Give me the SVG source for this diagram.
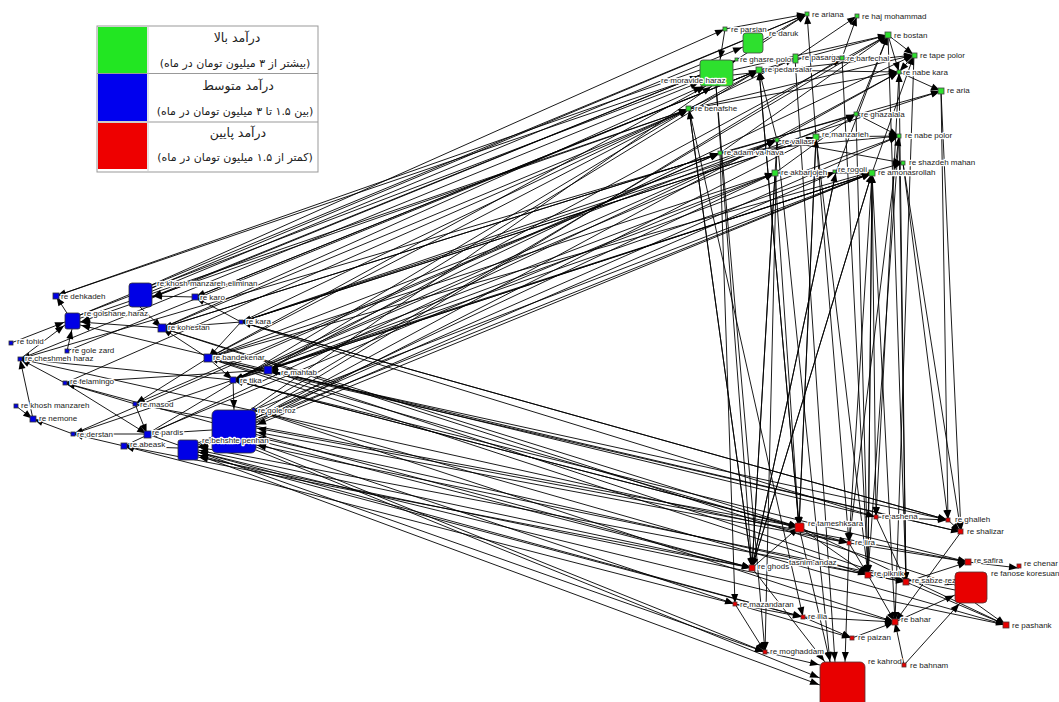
<svg xmlns="http://www.w3.org/2000/svg" width="1059" height="702" viewBox="0 0 1059 702">
<style>
.e line{stroke:#000;stroke-width:0.9;marker-end:url(#a)}
.l{font-family:"Liberation Sans",Arial,sans-serif;font-size:8px;fill:#222;paint-order:stroke;stroke:#fff;stroke-width:2.5px;stroke-linejoin:round}
.g{fill:#2ee02e;stroke:#444;stroke-width:0.8}
.b{fill:#0000e6;stroke:#333;stroke-width:0.8}
.r{fill:#e80000;stroke:#533;stroke-width:0.8}
.fa{font-family:"DejaVu Sans",sans-serif;fill:#222;text-anchor:middle}
</style>
<defs>
<marker id="a" markerUnits="userSpaceOnUse" markerWidth="9" markerHeight="7" refX="10" refY="3.5" orient="auto" overflow="visible">
<path d="M0,0 L9,3.5 L0,7 z" fill="#000"/>
</marker>
</defs>
<rect width="1059" height="702" fill="#fff"/>
<g id="connectors" class="e">
<line x1="56" y1="296" x2="700" y2="76"/>
<line x1="140" y1="290" x2="725" y2="29"/>
<line x1="150" y1="292" x2="743" y2="47"/>
<line x1="72" y1="318" x2="700" y2="79"/>
<line x1="72" y1="321" x2="689" y2="109"/>
<line x1="195" y1="297" x2="759" y2="70"/>
<line x1="162" y1="328" x2="720" y2="153"/>
<line x1="162" y1="328" x2="703" y2="86"/>
<line x1="241" y1="322" x2="777" y2="140"/>
<line x1="241" y1="322" x2="795" y2="58"/>
<line x1="241" y1="322" x2="816" y2="137"/>
<line x1="208" y1="358" x2="706" y2="86"/>
<line x1="208" y1="358" x2="689" y2="109"/>
<line x1="208" y1="358" x2="775" y2="173"/>
<line x1="268" y1="370" x2="872" y2="173"/>
<line x1="268" y1="370" x2="836" y2="172"/>
<line x1="268" y1="370" x2="759" y2="70"/>
<line x1="268" y1="370" x2="888" y2="35"/>
<line x1="233" y1="380" x2="914" y2="55"/>
<line x1="233" y1="380" x2="856" y2="114"/>
<line x1="233" y1="380" x2="777" y2="140"/>
<line x1="20" y1="359" x2="700" y2="82"/>
<line x1="65" y1="383" x2="689" y2="109"/>
<line x1="135" y1="404" x2="720" y2="153"/>
<line x1="67" y1="351" x2="759" y2="70"/>
<line x1="256" y1="420" x2="872" y2="173"/>
<line x1="256" y1="418" x2="899" y2="72"/>
<line x1="256" y1="422" x2="816" y2="137"/>
<line x1="250" y1="410" x2="712" y2="86"/>
<line x1="256" y1="415" x2="842" y2="58"/>
<line x1="198" y1="445" x2="775" y2="173"/>
<line x1="198" y1="443" x2="899" y2="136"/>
<line x1="147" y1="434" x2="689" y2="109"/>
<line x1="124" y1="446" x2="777" y2="140"/>
<line x1="254" y1="410" x2="872" y2="173"/>
<line x1="254" y1="410" x2="888" y2="35"/>
<line x1="152" y1="288" x2="807" y2="14"/>
<line x1="80" y1="315" x2="807" y2="14"/>
<line x1="152" y1="298" x2="737" y2="60"/>
<line x1="162" y1="328" x2="689" y2="109"/>
<line x1="208" y1="358" x2="903" y2="163"/>
<line x1="268" y1="370" x2="899" y2="136"/>
<line x1="233" y1="380" x2="872" y2="173"/>
<line x1="147" y1="434" x2="775" y2="173"/>
<line x1="73" y1="434" x2="720" y2="153"/>
<line x1="241" y1="322" x2="941" y2="91"/>
<line x1="689" y1="109" x2="80" y2="322"/>
<line x1="720" y1="153" x2="162" y2="328"/>
<line x1="777" y1="140" x2="208" y2="358"/>
<line x1="775" y1="173" x2="233" y2="380"/>
<line x1="872" y1="173" x2="268" y2="370"/>
<line x1="759" y1="70" x2="195" y2="297"/>
<line x1="700" y1="75" x2="152" y2="297"/>
<line x1="816" y1="137" x2="241" y2="322"/>
<line x1="700" y1="70" x2="56" y2="296"/>
<line x1="872" y1="173" x2="256" y2="425"/>
<line x1="836" y1="172" x2="198" y2="448"/>
<line x1="856" y1="114" x2="20" y2="359"/>
<line x1="241" y1="322" x2="948" y2="520"/>
<line x1="241" y1="322" x2="876" y2="517"/>
<line x1="162" y1="328" x2="799" y2="527"/>
<line x1="208" y1="358" x2="849" y2="543"/>
<line x1="208" y1="358" x2="868" y2="575"/>
<line x1="268" y1="370" x2="961" y2="532"/>
<line x1="268" y1="370" x2="906" y2="582"/>
<line x1="233" y1="380" x2="968" y2="562"/>
<line x1="233" y1="380" x2="799" y2="527"/>
<line x1="254" y1="410" x2="1006" y2="625"/>
<line x1="254" y1="410" x2="895" y2="622"/>
<line x1="256" y1="440" x2="752" y2="568"/>
<line x1="256" y1="443" x2="735" y2="604"/>
<line x1="256" y1="447" x2="765" y2="652"/>
<line x1="256" y1="450" x2="820" y2="678"/>
<line x1="198" y1="455" x2="820" y2="685"/>
<line x1="198" y1="452" x2="803" y2="617"/>
<line x1="124" y1="446" x2="752" y2="568"/>
<line x1="147" y1="434" x2="765" y2="652"/>
<line x1="135" y1="404" x2="799" y2="527"/>
<line x1="20" y1="359" x2="849" y2="543"/>
<line x1="65" y1="383" x2="752" y2="568"/>
<line x1="162" y1="328" x2="955" y2="585"/>
<line x1="208" y1="358" x2="948" y2="520"/>
<line x1="895" y1="622" x2="198" y2="452"/>
<line x1="906" y1="582" x2="198" y2="447"/>
<line x1="868" y1="575" x2="256" y2="437"/>
<line x1="849" y1="543" x2="256" y2="432"/>
<line x1="799" y1="527" x2="233" y2="380"/>
<line x1="752" y1="568" x2="198" y2="450"/>
<line x1="803" y1="617" x2="198" y2="455"/>
<line x1="735" y1="604" x2="124" y2="446"/>
<line x1="876" y1="517" x2="268" y2="370"/>
<line x1="968" y1="562" x2="256" y2="428"/>
<line x1="1006" y1="625" x2="198" y2="457"/>
<line x1="955" y1="590" x2="256" y2="445"/>
<line x1="948" y1="520" x2="241" y2="322"/>
<line x1="961" y1="532" x2="208" y2="358"/>
<line x1="872" y1="173" x2="752" y2="568"/>
<line x1="872" y1="173" x2="868" y2="575"/>
<line x1="872" y1="173" x2="849" y2="543"/>
<line x1="836" y1="172" x2="752" y2="568"/>
<line x1="775" y1="173" x2="752" y2="568"/>
<line x1="775" y1="173" x2="799" y2="527"/>
<line x1="777" y1="140" x2="752" y2="568"/>
<line x1="777" y1="140" x2="765" y2="652"/>
<line x1="720" y1="153" x2="735" y2="604"/>
<line x1="689" y1="109" x2="752" y2="568"/>
<line x1="689" y1="109" x2="803" y2="617"/>
<line x1="816" y1="137" x2="799" y2="527"/>
<line x1="816" y1="137" x2="868" y2="575"/>
<line x1="899" y1="136" x2="868" y2="575"/>
<line x1="899" y1="136" x2="906" y2="582"/>
<line x1="903" y1="163" x2="961" y2="532"/>
<line x1="941" y1="91" x2="948" y2="520"/>
<line x1="899" y1="72" x2="876" y2="517"/>
<line x1="856" y1="114" x2="868" y2="575"/>
<line x1="914" y1="55" x2="895" y2="622"/>
<line x1="888" y1="35" x2="906" y2="582"/>
<line x1="759" y1="70" x2="799" y2="527"/>
<line x1="716" y1="86" x2="752" y2="568"/>
<line x1="716" y1="86" x2="765" y2="652"/>
<line x1="795" y1="58" x2="835" y2="662"/>
<line x1="842" y1="58" x2="868" y2="575"/>
<line x1="752" y1="568" x2="872" y2="173"/>
<line x1="868" y1="575" x2="872" y2="173"/>
<line x1="752" y1="568" x2="836" y2="172"/>
<line x1="849" y1="543" x2="899" y2="136"/>
<line x1="799" y1="527" x2="816" y2="137"/>
<line x1="895" y1="622" x2="872" y2="173"/>
<line x1="906" y1="582" x2="899" y2="72"/>
<line x1="941" y1="91" x2="961" y2="532"/>
<line x1="777" y1="140" x2="830" y2="662"/>
<line x1="816" y1="137" x2="849" y2="543"/>
<line x1="872" y1="173" x2="876" y2="517"/>
<line x1="903" y1="163" x2="948" y2="520"/>
<line x1="752" y1="568" x2="689" y2="109"/>
<line x1="799" y1="527" x2="759" y2="70"/>
<line x1="759" y1="70" x2="888" y2="35"/>
<line x1="733" y1="62" x2="807" y2="14"/>
<line x1="763" y1="40" x2="807" y2="14"/>
<line x1="725" y1="29" x2="720" y2="60"/>
<line x1="689" y1="109" x2="914" y2="55"/>
<line x1="720" y1="153" x2="888" y2="35"/>
<line x1="777" y1="140" x2="899" y2="72"/>
<line x1="888" y1="35" x2="914" y2="55"/>
<line x1="888" y1="35" x2="899" y2="72"/>
<line x1="914" y1="55" x2="899" y2="72"/>
<line x1="899" y1="72" x2="941" y2="91"/>
<line x1="842" y1="58" x2="857" y2="16"/>
<line x1="795" y1="58" x2="857" y2="16"/>
<line x1="816" y1="137" x2="899" y2="136"/>
<line x1="856" y1="114" x2="899" y2="136"/>
<line x1="775" y1="173" x2="872" y2="173"/>
<line x1="777" y1="140" x2="903" y2="163"/>
<line x1="720" y1="153" x2="899" y2="136"/>
<line x1="733" y1="70" x2="888" y2="35"/>
<line x1="733" y1="75" x2="914" y2="55"/>
<line x1="759" y1="70" x2="899" y2="72"/>
<line x1="872" y1="173" x2="914" y2="55"/>
<line x1="836" y1="172" x2="888" y2="35"/>
<line x1="775" y1="173" x2="856" y2="114"/>
<line x1="689" y1="109" x2="899" y2="72"/>
<line x1="720" y1="153" x2="941" y2="91"/>
<line x1="725" y1="29" x2="807" y2="14"/>
<line x1="689" y1="109" x2="759" y2="70"/>
<line x1="856" y1="114" x2="888" y2="35"/>
<line x1="795" y1="58" x2="842" y2="58"/>
<line x1="816" y1="137" x2="807" y2="14"/>
<line x1="777" y1="140" x2="759" y2="70"/>
<line x1="72" y1="321" x2="56" y2="296"/>
<line x1="195" y1="297" x2="152" y2="296"/>
<line x1="162" y1="328" x2="80" y2="322"/>
<line x1="20" y1="359" x2="65" y2="325"/>
<line x1="11" y1="343" x2="65" y2="322"/>
<line x1="67" y1="351" x2="72" y2="329"/>
<line x1="65" y1="383" x2="20" y2="359"/>
<line x1="135" y1="404" x2="65" y2="383"/>
<line x1="33" y1="419" x2="20" y2="359"/>
<line x1="73" y1="434" x2="33" y2="419"/>
<line x1="147" y1="434" x2="73" y2="434"/>
<line x1="124" y1="446" x2="73" y2="434"/>
<line x1="178" y1="448" x2="124" y2="446"/>
<line x1="212" y1="430" x2="147" y2="434"/>
<line x1="233" y1="380" x2="234" y2="410"/>
<line x1="208" y1="358" x2="233" y2="380"/>
<line x1="268" y1="370" x2="233" y2="380"/>
<line x1="241" y1="322" x2="195" y2="297"/>
<line x1="16" y1="406" x2="33" y2="419"/>
<line x1="135" y1="404" x2="147" y2="434"/>
<line x1="233" y1="380" x2="20" y2="359"/>
<line x1="268" y1="370" x2="80" y2="325"/>
<line x1="241" y1="322" x2="208" y2="358"/>
<line x1="212" y1="440" x2="198" y2="447"/>
<line x1="140" y1="307" x2="162" y2="328"/>
<line x1="241" y1="322" x2="162" y2="328"/>
<line x1="208" y1="358" x2="162" y2="328"/>
<line x1="268" y1="370" x2="65" y2="383"/>
<line x1="233" y1="380" x2="73" y2="434"/>
<line x1="208" y1="358" x2="135" y2="404"/>
<line x1="65" y1="383" x2="147" y2="434"/>
<line x1="752" y1="568" x2="799" y2="527"/>
<line x1="799" y1="527" x2="868" y2="575"/>
<line x1="868" y1="575" x2="906" y2="582"/>
<line x1="906" y1="582" x2="968" y2="562"/>
<line x1="968" y1="562" x2="1019" y2="568"/>
<line x1="971" y1="600" x2="1006" y2="625"/>
<line x1="895" y1="622" x2="955" y2="595"/>
<line x1="904" y1="665" x2="895" y2="622"/>
<line x1="904" y1="665" x2="960" y2="603"/>
<line x1="735" y1="604" x2="765" y2="652"/>
<line x1="735" y1="604" x2="803" y2="617"/>
<line x1="803" y1="617" x2="895" y2="622"/>
<line x1="803" y1="617" x2="852" y2="638"/>
<line x1="735" y1="604" x2="852" y2="638"/>
<line x1="765" y1="652" x2="820" y2="665"/>
<line x1="849" y1="543" x2="845" y2="662"/>
<line x1="948" y1="520" x2="961" y2="532"/>
<line x1="876" y1="517" x2="948" y2="520"/>
<line x1="961" y1="532" x2="895" y2="622"/>
<line x1="868" y1="575" x2="895" y2="622"/>
<line x1="849" y1="543" x2="968" y2="562"/>
<line x1="752" y1="568" x2="825" y2="662"/>
<line x1="852" y1="638" x2="895" y2="622"/>
<line x1="906" y1="582" x2="1006" y2="625"/>
<line x1="799" y1="527" x2="1006" y2="625"/>
<line x1="799" y1="527" x2="830" y2="662"/>
<line x1="876" y1="517" x2="906" y2="582"/>
<line x1="849" y1="543" x2="868" y2="575"/>
</g>
<g id="legend">
<rect x="97" y="26" width="221" height="146" fill="#fff" stroke="#999"/>
<rect x="98" y="27" width="49" height="46" fill="#22e622"/>
<rect x="98" y="74" width="49" height="47" fill="#0000ee"/>
<rect x="98" y="123" width="49" height="46" fill="#ee0000"/>
<line x1="97" y1="73.5" x2="318" y2="73.5" stroke="#999"/>
<line x1="97" y1="122" x2="318" y2="122" stroke="#999"/>
<line x1="148" y1="26" x2="148" y2="172" stroke="#ccc"/>
<text class="fa" x="237" y="42" font-size="12.5" direction="rtl">درآمد بالا</text>
<text class="fa" x="235" y="67" font-size="11" direction="rtl">(بیشتر از ۳ میلیون تومان در ماه)</text>
<text class="fa" x="238" y="90" font-size="12.5" direction="rtl">درآمد متوسط</text>
<text class="fa" x="235" y="115" font-size="11" direction="rtl">(بین ۱.۵ تا ۳ میلیون تومان در ماه)</text>
<text class="fa" x="238" y="137" font-size="12.5" direction="rtl">درآمد پایین</text>
<text class="fa" x="235" y="161" font-size="11" direction="rtl">(کمتر از ۱.۵ میلیون تومان در ماه)</text>
</g>
<g id="n-ariana"><rect class="g" x="805" y="12" width="4" height="4"/><text class="l" x="812" y="17">re ariana</text></g>
<g id="n-haj"><rect class="g" x="855" y="14" width="4" height="4"/><text class="l" x="862" y="19">re haj mohammad</text></g>
<g id="n-parsian"><rect class="g" x="723" y="27" width="4" height="4"/><text class="l" x="731" y="32">re parsian</text></g>
<g id="n-daruk"><rect class="g" x="743" y="33" width="20" height="20" rx="3"/><text class="l" x="769" y="36">re daruk</text></g>
<g id="n-ghasre"><rect class="g" x="735" y="58" width="3" height="3"/><text class="l" x="740" y="62">re ghasre polor</text></g>
<g id="n-pasargad"><rect class="g" x="793" y="54" width="5" height="9"/><text class="l" x="802" y="60">re pasargad</text></g>
<g id="n-pedarsalar"><rect class="g" x="756" y="67" width="6" height="6"/><text class="l" x="765" y="72">re pedarsalar</text></g>
<g id="n-moravide"><rect class="g" x="700" y="60" width="33" height="26" rx="3"/><text class="l" x="661" y="83">re moravide haraz</text></g>
<g id="n-barfechal"><rect class="g" x="840" y="56" width="4" height="4"/><text class="l" x="847" y="61">re barfechal</text></g>
<g id="n-bostan"><rect class="g" x="885" y="32" width="6" height="6"/><text class="l" x="894" y="38">re bostan</text></g>
<g id="n-tape"><rect class="g" x="912" y="53" width="5" height="5"/><text class="l" x="920" y="58">re tape polor</text></g>
<g id="n-nabekara"><rect class="g" x="897" y="70" width="4" height="4"/><text class="l" x="903" y="75">re nabe kara</text></g>
<g id="n-aria"><rect class="g" x="938" y="88" width="6" height="6"/><text class="l" x="947" y="93">re aria</text></g>
<g id="n-benafshe"><rect class="g" x="686" y="106" width="5" height="5"/><text class="l" x="695" y="111">re benafshe</text></g>
<g id="n-ghazalala"><rect class="g" x="854" y="112" width="4" height="4"/><text class="l" x="861" y="117">re ghazalala</text></g>
<g id="n-manzarieh"><rect class="g" x="813" y="134" width="6" height="6"/><text class="l" x="822" y="137">re manzarieh</text></g>
<g id="n-nabepolor"><rect class="g" x="897" y="134" width="4" height="4"/><text class="l" x="905" y="138">re nabe polor</text></g>
<g id="n-valiasr"><rect class="g" x="775" y="138" width="4" height="4"/><text class="l" x="782" y="144">re valiasr</text></g>
<g id="n-adam"><rect class="g" x="718" y="151" width="4" height="4"/><text class="l" x="724" y="155">re adam va hava</text></g>
<g id="n-shazdeh"><rect class="g" x="901" y="161" width="4" height="4"/><text class="l" x="909" y="165">re shazdeh mahan</text></g>
<g id="n-akbarjojeh"><rect class="g" x="772" y="170" width="6" height="6"/><text class="l" x="781" y="175">re akbarjojeh</text></g>
<g id="n-rogoli"><rect class="g" x="833" y="170" width="3" height="3"/><text class="l" x="838" y="172">re rogoli</text></g>
<g id="n-amonasrollah"><rect class="g" x="869" y="170" width="6" height="6"/><text class="l" x="878" y="175">re amonasrollah</text></g>
<g id="n-dehkadeh"><rect class="b" x="53" y="293" width="6" height="6"/><text class="l" x="61" y="299">re dehkadeh</text></g>
<g id="n-khosh-eliminan"><rect class="b" x="129" y="283" width="23" height="24" rx="3"/><text class="l" x="157" y="286">re khosh manzareh eliminan</text></g>
<g id="n-golshane"><rect class="b" x="65" y="313" width="15" height="16" rx="2"/><text class="l" x="84" y="316">re golshane haraz</text></g>
<g id="n-karo"><rect class="b" x="192" y="294" width="6" height="6"/><text class="l" x="200" y="300">re karo</text></g>
<g id="n-kohestan"><rect class="b" x="158" y="324" width="8" height="8"/><text class="l" x="168" y="330">re kohestan</text></g>
<g id="n-kara"><rect class="b" x="239" y="320" width="4" height="4"/><text class="l" x="246" y="324">re kara</text></g>
<g id="n-tohid"><rect class="b" x="9" y="341" width="4" height="4"/><text class="l" x="17" y="344">re tohid</text></g>
<g id="n-golezard"><rect class="b" x="65" y="349" width="4" height="4"/><text class="l" x="72" y="353">re gole zard</text></g>
<g id="n-cheshmeh"><rect class="b" x="18" y="357" width="4" height="4"/><text class="l" x="25" y="361">re cheshmeh haraz</text></g>
<g id="n-bandekenar"><rect class="b" x="204" y="354" width="8" height="8"/><text class="l" x="213" y="360">re bandekenar</text></g>
<g id="n-mahtab"><rect class="b" x="264" y="366" width="8" height="8"/><text class="l" x="281" y="375">re mahtab</text></g>
<g id="n-tika"><rect class="b" x="230" y="377" width="6" height="6"/><text class="l" x="240" y="383">re tika</text></g>
<g id="n-felamingo"><rect class="b" x="63" y="381" width="4" height="4"/><text class="l" x="70" y="384">re felamingo</text></g>
<g id="n-masod"><rect class="b" x="133" y="402" width="4" height="4"/><text class="l" x="140" y="407">re masod</text></g>
<g id="n-khosh"><rect class="b" x="14" y="404" width="4" height="4"/><text class="l" x="21" y="408">re khosh manzareh</text></g>
<g id="n-nemone"><rect class="b" x="30" y="416" width="6" height="6"/><text class="l" x="39" y="421">re nemone</text></g>
<g id="n-goleroz"><rect class="b" x="252" y="408" width="3" height="3"/><text class="l" x="258" y="413">re gole roz</text></g>
<g id="n-behshte"><rect class="b" x="212" y="410" width="44" height="43" rx="5"/><text class="l" x="202" y="443">re behshte penhan</text></g>
<g id="n-derstan"><rect class="b" x="71" y="432" width="4" height="4"/><text class="l" x="77" y="437">re derstan</text></g>
<g id="n-pardis"><rect class="b" x="144" y="431" width="7" height="7"/><text class="l" x="152" y="435">re pardis</text></g>
<g id="n-abeask"><rect class="b" x="121" y="443" width="6" height="6"/><text class="l" x="130" y="447">re abeask</text></g>
<g id="n-blue-box"><rect class="b" x="178" y="440" width="20" height="20" rx="2"/></g>
<g id="n-tameshksara"><rect class="r" x="795" y="523" width="9" height="9" rx="1"/><text class="l" x="808" y="526">re tameshksara</text></g>
<g id="n-ashena"><rect class="r" x="874" y="515" width="4" height="4"/><text class="l" x="882" y="519">re ashena</text></g>
<g id="n-ghalleh"><rect class="r" x="946" y="518" width="4" height="4"/><text class="l" x="955" y="522">re ghalleh</text></g>
<g id="n-shalizar"><rect class="r" x="958" y="529" width="5" height="5"/><text class="l" x="967" y="534">re shalizar</text></g>
<g id="n-lira"><rect class="r" x="847" y="541" width="4" height="4"/><text class="l" x="855" y="545">re lira</text></g>
<g id="n-ghods"><rect class="r" x="749" y="565" width="6" height="6"/><text class="l" x="758" y="569">re ghods</text></g>
<g id="n-tasnim"><text class="l" x="789" y="565">tasnim andaz</text></g>
<g id="n-piknik"><rect class="r" x="865" y="572" width="6" height="6"/><text class="l" x="874" y="576">re piknik</text></g>
<g id="n-sabze"><rect class="r" x="903" y="579" width="6" height="6"/><text class="l" x="912" y="583">re sabze rezekeh</text></g>
<g id="n-safira"><rect class="r" x="965" y="559" width="6" height="6"/><text class="l" x="974" y="563">re safira</text></g>
<g id="n-chenar"><rect class="r" x="1017" y="564" width="4" height="4"/><text class="l" x="1024" y="566">re chenar</text></g>
<g id="n-fanose"><rect class="r" x="955" y="572" width="32" height="31" rx="4"/><text class="l" x="991" y="576">re fanose koresuan</text></g>
<g id="n-pashank"><rect class="r" x="1003" y="622" width="6" height="6"/><text class="l" x="1012" y="628">re pashank</text></g>
<g id="n-bahar"><rect class="r" x="892" y="619" width="6" height="6"/><text class="l" x="901" y="622">re bahar</text></g>
<g id="n-mazandaran"><rect class="r" x="733" y="602" width="4" height="4"/><text class="l" x="740" y="607">re mazandaran</text></g>
<g id="n-ilia"><rect class="r" x="801" y="615" width="4" height="4"/><text class="l" x="808" y="619">re ilia</text></g>
<g id="n-paizan"><rect class="r" x="850" y="636" width="4" height="4"/><text class="l" x="858" y="640">re paizan</text></g>
<g id="n-moghaddam"><rect class="r" x="763" y="650" width="4" height="4"/><text class="l" x="770" y="654">re moghaddam</text></g>
<g id="n-kahrod"><rect class="r" x="820" y="662" width="45" height="45" rx="5"/><text class="l" x="868" y="664">re kahrod</text></g>
<g id="n-bahnam"><rect class="r" x="902" y="663" width="4" height="4"/><text class="l" x="910" y="668">re bahnam</text></g>
</svg>
